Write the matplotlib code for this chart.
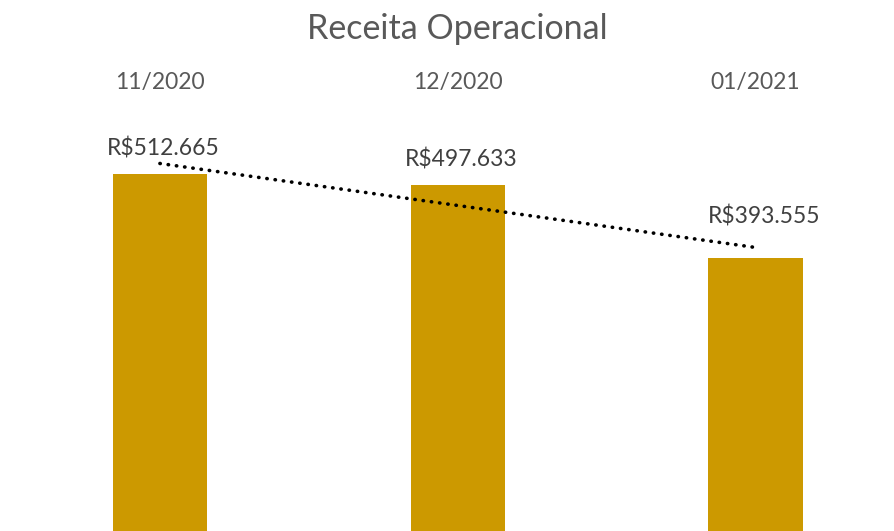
import numpy as np
import matplotlib
matplotlib.use("Agg")
import matplotlib.pyplot as plt
import matplotlib.transforms as mtransforms

plt.rcParams['font.family'] = ['Lato', 'DejaVu Sans']

# data
months = ["11/2020", "12/2020", "01/2021"]
receita = [512665, 497633, 393555]
value_labels = ["R$512.665", "R$497.633", "R$393.555"]

BAR_COLOR = "#CC9900"
TEXT_GRAY = "#595959"
LABEL_GRAY = "#404040"

fig = plt.figure(figsize=(8.94, 5.31), dpi=100)
ax = fig.add_axes([0, 0, 1, 1])

x = np.arange(len(months))
ax.bar(x, receita, width=0.316, color=BAR_COLOR, zorder=1)

# linear trend line (same as excel's "linear" trendline)
slope, intercept = np.polyfit(x, receita, 1)
ax.plot(x, slope * x + intercept, color="black", linestyle=(0, (0.1, 2.2)),
        linewidth=2.6, dash_capstyle="round", zorder=2)

# data labels, the last one pushed up to clear the trendline
label_offsets = [(3, 25), (3, 25), (9, 41)]
for xi, val, txt, off in zip(x, receita, value_labels, label_offsets):
    ax.annotate(txt, (xi, val), xytext=off, textcoords="offset pixels",
                ha="center", va="center", fontsize=16.5, color=LABEL_GRAY)

# category labels sit on top of the plot
trans = mtransforms.blended_transform_factory(ax.transData, ax.transAxes)
for xi, m in zip(x, months):
    ax.text(xi, 1 - 83 / 531, m, transform=trans, ha="center", va="center",
            fontsize=16.5, color=TEXT_GRAY)

fig.text(0.511, 1 - 29 / 531, "Receita Operacional", ha="center", va="center",
         fontsize=24.5, color=TEXT_GRAY)

ax.set_xlim(-0.537, 2.465)
ax.set_ylim(6400, 759300)
ax.axis("off")

fig.savefig("out.png", dpi=100, facecolor="white")
